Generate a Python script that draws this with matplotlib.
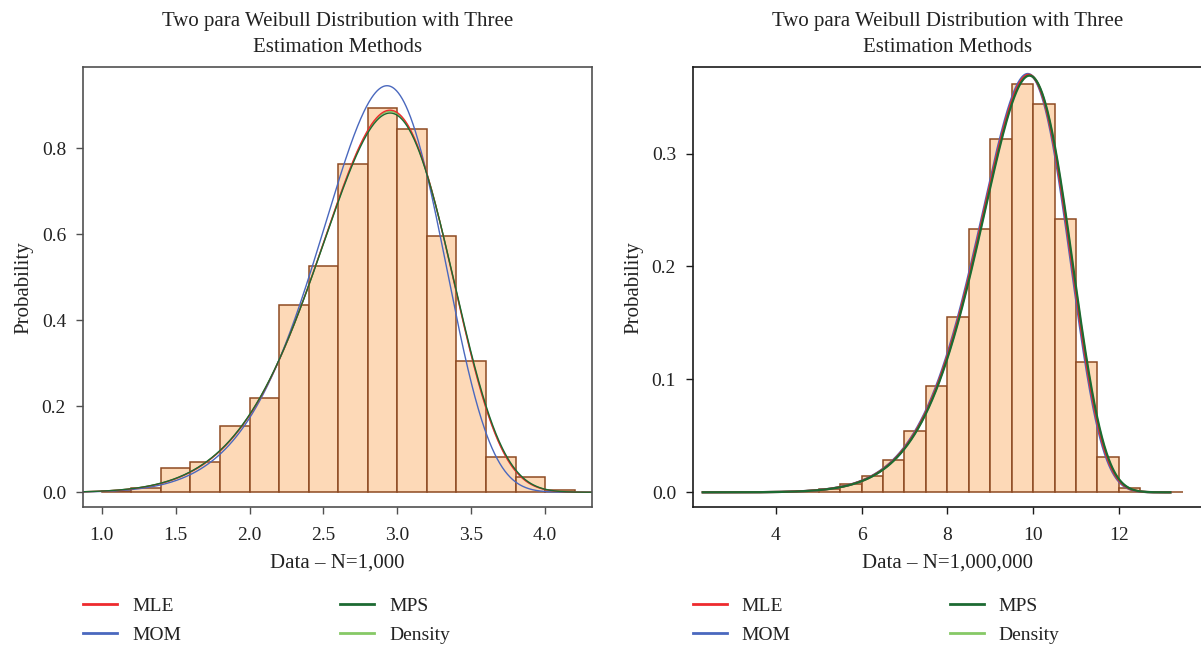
import numpy as np
import matplotlib
matplotlib.use("Agg")
import matplotlib.pyplot as plt
from matplotlib.lines import Line2D

plt.rcParams['font.family'] = ['Liberation Serif', 'DejaVu Serif']

# ---- data ----
# left panel, N = 1,000 (bin width 0.2)
left_edges = [1.0, 1.2, 1.4, 1.6, 1.8, 2.0, 2.2, 2.4, 2.6, 2.8, 3.0, 3.2, 3.4, 3.6, 3.8, 4.0]
left_heights = [0.004, 0.010, 0.056, 0.071, 0.155, 0.220, 0.435, 0.525, 0.764,
                0.894, 0.845, 0.595, 0.305, 0.081, 0.036, 0.005]
left_width = 0.2

# right panel, N = 1,000,000 (bin width 0.5)
right_edges = [2.5, 3.0, 3.5, 4.0, 4.5, 5.0, 5.5, 6.0, 6.5, 7.0, 7.5, 8.0,
               8.5, 9.0, 9.5, 10.0, 10.5, 11.0, 11.5, 12.0, 12.5, 13.0]
right_heights = [0.0, 0.00002, 0.0001, 0.0005, 0.0013, 0.0033, 0.0072, 0.0148,
                 0.029, 0.054, 0.094, 0.155, 0.233, 0.313, 0.362, 0.344,
                 0.242, 0.115, 0.031, 0.0038, 0.0002, 0.0]
right_width = 0.5

methods = ['MLE', 'MOM', 'MPS', 'Density']
# fitted Weibull (shape, scale) per method
left_shape = [7.2, 7.6, 7.15, 7.18]
left_scale = [3.012, 2.985, 3.014, 3.013]
right_shape = [10.0, 10.0, 10.0, 10.0]
right_scale = [10.0, 9.98, 10.02, 10.01]

colors = {'MLE': '#EE2A2E', 'MOM': '#4A68BE', 'MPS': '#1D6A32', 'Density': '#86C966'}
draw_order = ['Density', 'MOM', 'MLE', 'MPS']


def weibull_pdf(x, k, lam):
    z = x / lam
    return (k / lam) * z ** (k - 1) * np.exp(-z ** k)


fig = plt.figure(figsize=(12.01, 6.46), dpi=100)
W, H = 1201, 646
ax1 = fig.add_axes([82.7 / W, 1 - 507.3 / H, (592.3 - 82.7) / W, 440 / H])
ax2 = fig.add_axes([692.7 / W, 1 - 507.3 / H, (1203 - 692.7) / W, 440 / H])

fill = '#FDD9B7'
edge = '#8E4A22'

panels = [
    (ax1, left_edges, left_heights, left_width, left_shape, left_scale,
     (0.871, 4.319), (-0.035, 0.988), (0.871, 4.319), 1.0, 'Data \u2013 N=1,000', '#505050'),
    (ax2, right_edges, right_heights, right_width, right_shape, right_scale,
     (2.065, 13.96), (-0.0133, 0.3764), (2.3, 13.2), 1.6, 'Data \u2013 N=1,000,000', '#1a1a1a'),
]

for ax, edges, heights, width, shapes, scales, xlim, ylim, crange, lw, xlab, spc in panels:
    ax.bar(edges, heights, width=width, align='edge', color=fill,
           edgecolor=edge, linewidth=1.1, zorder=1)
    xs = np.linspace(crange[0], crange[1], 800)
    for m in draw_order:
        i = methods.index(m)
        ax.plot(xs, weibull_pdf(xs, shapes[i], scales[i]), color=colors[m], lw=lw, zorder=2)
    ax.set_xlim(*xlim)
    ax.set_ylim(*ylim)
    ax.set_title('Two para Weibull Distribution with Three\nEstimation Methods',
                 fontsize=15, pad=11, linespacing=1.5, color='#222222')
    ax.set_xlabel(xlab, fontsize=15, color='#222222', labelpad=7)
    ax.set_ylabel('Probability', fontsize=15, color='#222222', labelpad=6)
    ax.tick_params(axis='x', labelsize=14, length=5, width=1, pad=9, colors='#222222')
    ax.tick_params(axis='y', labelsize=14, length=5, width=1, pad=7, colors='#222222')
    for s in ax.spines.values():
        s.set_color(spc)
        s.set_linewidth(1.2)
    ax.tick_params(color=spc)

ax1.set_xticks([1.0, 1.5, 2.0, 2.5, 3.0, 3.5, 4.0])
ax1.set_xticklabels(['1.0', '1.5', '2.0', '2.5', '3.0', '3.5', '4.0'])
ax1.set_yticks([0.0, 0.2, 0.4, 0.6, 0.8])
ax1.set_yticklabels(['0.0', '0.2', '0.4', '0.6', '0.8'])
ax2.set_xticks([4, 6, 8, 10, 12])
ax2.set_yticks([0.0, 0.1, 0.2, 0.3])
ax2.set_yticklabels(['0.0', '0.1', '0.2', '0.3'])

# legends below each panel (two columns)
handles = [Line2D([], [], color=colors[m], lw=2) for m in methods]
for x0 in (83.3, 692.7):
    fig.legend(handles, methods, ncol=2, loc='upper left',
               bbox_to_anchor=(x0 / W, 1 - 597 / H), bbox_transform=fig.transFigure,
               frameon=False, fontsize=14, handlelength=1.75, handletextpad=0.75,
               columnspacing=8.2, labelspacing=0.62, borderpad=0, borderaxespad=0,
               labelcolor='#222222')

fig.savefig('out.png', dpi=100)
